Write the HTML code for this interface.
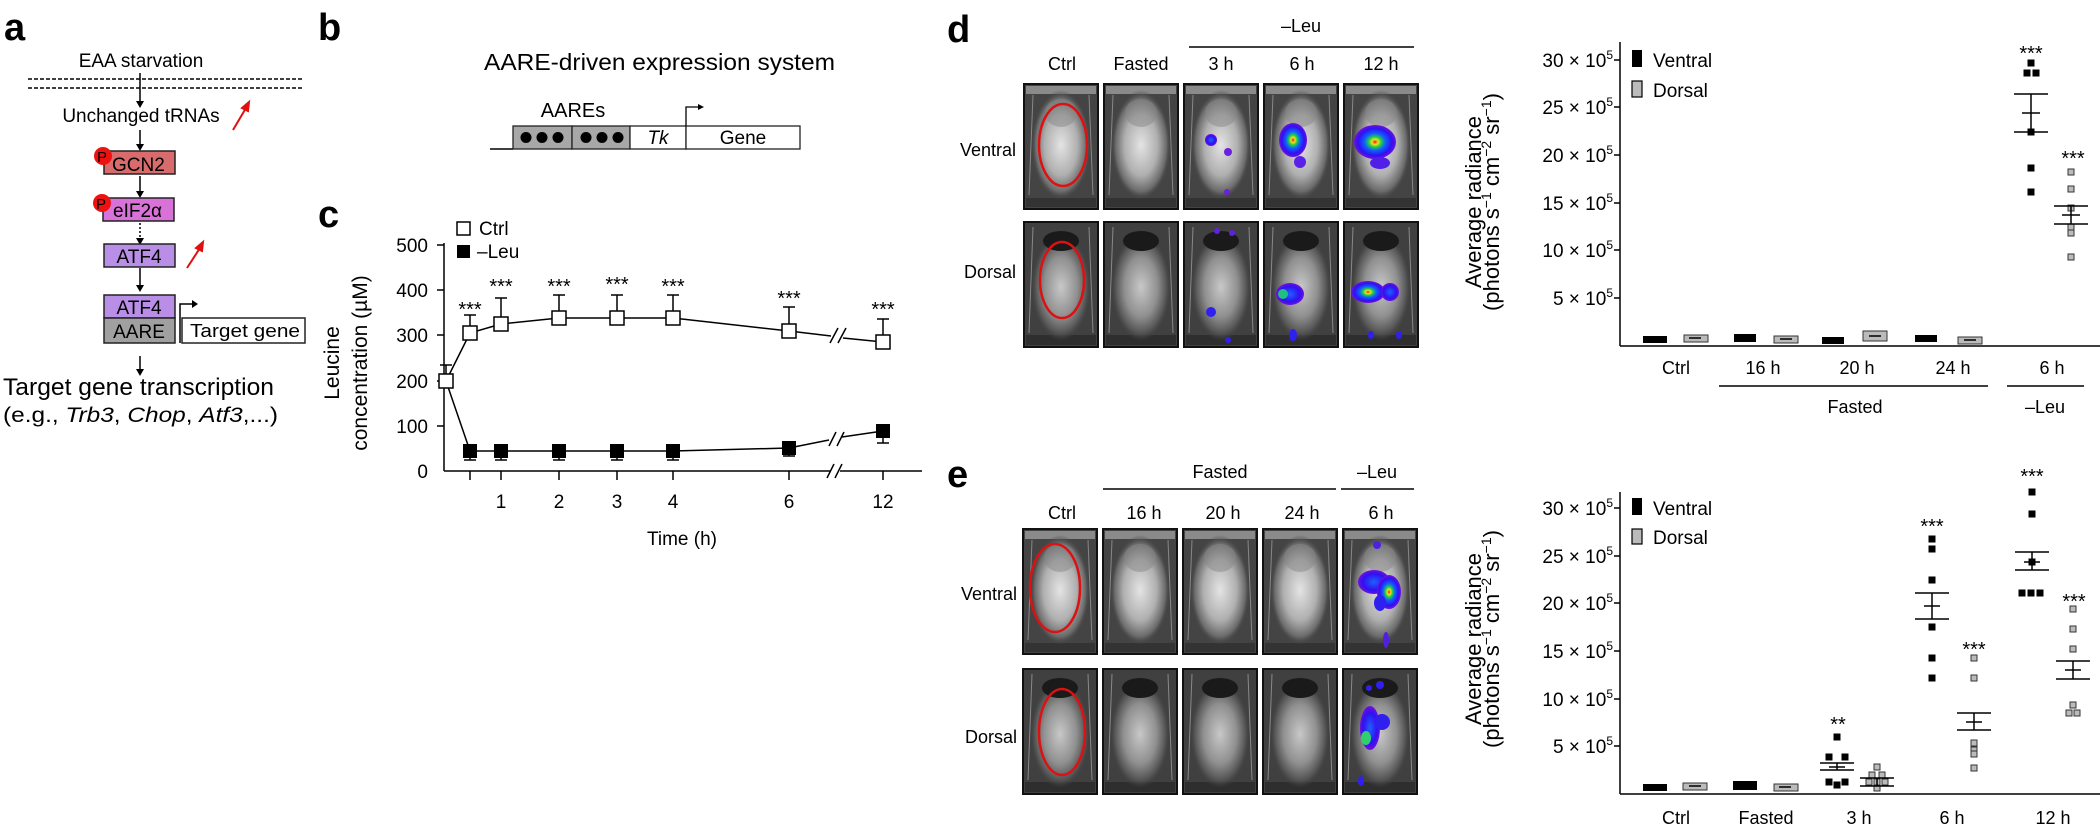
<!DOCTYPE html>
<html><head><meta charset="utf-8"><style>
html,body{margin:0;padding:0;background:#fff;}
svg{display:block;font-family:"Liberation Sans",sans-serif;}
</style></head><body>
<svg width="2100" height="831" viewBox="0 0 2100 831" xmlns="http://www.w3.org/2000/svg">
<defs>
<radialGradient id="body" cx="50%" cy="50%" r="50%">
<stop offset="0" stop-color="#e4e4e4"/><stop offset="0.55" stop-color="#b0b0b0"/><stop offset="0.85" stop-color="#6a6a6a"/><stop offset="1" stop-color="#404040" stop-opacity="0"/>
</radialGradient>
<radialGradient id="bodyd" cx="50%" cy="50%" r="50%">
<stop offset="0" stop-color="#c8c8c8"/><stop offset="0.55" stop-color="#909090"/><stop offset="0.85" stop-color="#555"/><stop offset="1" stop-color="#404040" stop-opacity="0"/>
</radialGradient>
<radialGradient id="lum" cx="50%" cy="50%" r="50%">
<stop offset="0" stop-color="#e02020"/><stop offset="0.15" stop-color="#f0e020"/><stop offset="0.3" stop-color="#20d040"/><stop offset="0.5" stop-color="#1060ff"/><stop offset="0.8" stop-color="#3010f0"/><stop offset="1" stop-color="#7010e0"/>
</radialGradient>
<radialGradient id="lumb" cx="50%" cy="50%" r="50%">
<stop offset="0" stop-color="#2060ff"/><stop offset="0.7" stop-color="#3010f0"/><stop offset="1" stop-color="#7010e0"/>
</radialGradient>
<symbol id="mv" viewBox="0 0 76 127" width="76" height="127">
<rect x="1" y="1" width="74" height="125" fill="#444" stroke="#111" stroke-width="2"/>
<rect x="3" y="3" width="70" height="8" fill="#8a8a8a"/>
<rect x="3" y="115" width="70" height="9" fill="#333"/>
<line x1="10" y1="12" x2="6" y2="112" stroke="#888" stroke-width="1"/>
<line x1="66" y1="12" x2="70" y2="112" stroke="#888" stroke-width="1"/>
<ellipse cx="38" cy="62" rx="30" ry="55" fill="url(#body)"/>
<ellipse cx="38" cy="30" rx="16" ry="14" fill="#888" opacity="0.5"/>
</symbol>
<symbol id="md" viewBox="0 0 76 127" width="76" height="127">
<rect x="1" y="1" width="74" height="125" fill="#404040" stroke="#111" stroke-width="2"/>
<rect x="3" y="114" width="70" height="10" fill="#2e2e2e"/>
<line x1="10" y1="6" x2="6" y2="112" stroke="#888" stroke-width="1"/>
<line x1="66" y1="6" x2="70" y2="112" stroke="#888" stroke-width="1"/>
<ellipse cx="38" cy="66" rx="30" ry="54" fill="url(#bodyd)"/>
<ellipse cx="38" cy="20" rx="18" ry="10" fill="#1a1a1a"/>
</symbol>
</defs>

<!-- Panel a -->
<text x="4" y="40" font-size="38" font-weight="bold">a</text>
<text x="141" y="67" font-size="19" text-anchor="middle">EAA starvation</text>
<line x1="28" y1="79" x2="304" y2="79" stroke="#000" stroke-width="1.5" stroke-dasharray="4,2"/>
<line x1="28" y1="88" x2="304" y2="88" stroke="#000" stroke-width="1.5" stroke-dasharray="4,2"/>
<g stroke="#000" stroke-width="1.5" fill="none">
<line x1="140" y1="73" x2="140" y2="104"/>
<line x1="140" y1="130" x2="140" y2="146"/>
<line x1="140" y1="176" x2="140" y2="193"/>
<line x1="140" y1="223" x2="140" y2="240" stroke-dasharray="2,2"/>
<line x1="140" y1="268" x2="140" y2="286"/>
<line x1="140" y1="356" x2="140" y2="371"/>
</g>
<g fill="#000">
<path d="M136,101 L144,101 L140,108 Z"/>
<path d="M136,144 L144,144 L140,151 Z"/>
<path d="M136,191 L144,191 L140,198 Z"/>
<path d="M136,238 L144,238 L140,245 Z"/>
<path d="M136,285 L144,285 L140,292 Z"/>
<path d="M136,369 L144,369 L140,376 Z"/>
</g>
<text x="141" y="122" font-size="19" text-anchor="middle">Unchanged tRNAs</text>
<g stroke="#e01010" stroke-width="2" fill="#e01010">
<line x1="233" y1="130" x2="246" y2="108"/><path d="M249,102 L242,108 L248,111 Z"/>
<line x1="187" y1="268" x2="200" y2="248"/><path d="M203,242 L196,248 L202,251 Z"/>
</g>
<rect x="104" y="151" width="71" height="23" fill="#d86b6b" stroke="#222" stroke-width="1.5"/>
<text x="112" y="171" font-size="19">GCN2</text>
<circle cx="103" cy="156" r="9" fill="#ee1111"/><text x="97" y="162" font-size="15">P</text>
<rect x="103" y="198" width="71" height="23" fill="#d972d8" stroke="#222" stroke-width="1.5"/>
<text x="113" y="217" font-size="19">eIF2α</text>
<circle cx="102" cy="203" r="9" fill="#ee1111"/><text x="96" y="209" font-size="15">P</text>
<rect x="104" y="244" width="71" height="23" fill="#b98ee6" stroke="#222" stroke-width="1.5"/>
<text x="139" y="263" font-size="19" text-anchor="middle">ATF4</text>
<rect x="104" y="295" width="71" height="23" fill="#b98ee6" stroke="#222" stroke-width="1.5"/>
<text x="139" y="314" font-size="19" text-anchor="middle">ATF4</text>
<rect x="104" y="318" width="71" height="25" fill="#a0a0a0" stroke="#222" stroke-width="1.5"/>
<text x="139" y="338" font-size="19" text-anchor="middle">AARE</text>
<rect x="182" y="318" width="123" height="25" fill="#fff" stroke="#222" stroke-width="1.5"/>
<text x="190" y="337" font-size="18" textLength="110" lengthAdjust="spacingAndGlyphs">Target gene</text>
<path d="M180,343 L180,304 L193,304" stroke="#000" stroke-width="1.5" fill="none"/><path d="M192,300 L198,304 L192,308 Z"/>
<text x="3" y="395" font-size="24" textLength="271" lengthAdjust="spacingAndGlyphs">Target gene transcription</text>
<text x="3" y="422" font-size="21" textLength="275" lengthAdjust="spacingAndGlyphs">(e.g., <tspan font-style="italic">Trb3</tspan>, <tspan font-style="italic">Chop</tspan>, <tspan font-style="italic">Atf3</tspan>,...)</text>

<!-- Panel b -->
<text x="318" y="40" font-size="38" font-weight="bold">b</text>
<text x="484" y="70" font-size="23" textLength="351" lengthAdjust="spacingAndGlyphs">AARE-driven expression system</text>
<text x="573" y="117" font-size="20" text-anchor="middle">AAREs</text>
<line x1="490" y1="149" x2="513" y2="149" stroke="#000" stroke-width="1.5"/>
<rect x="513" y="126" width="59" height="23" fill="#a8a8a8" stroke="#222" stroke-width="1.3"/>
<rect x="572" y="126" width="58" height="23" fill="#a8a8a8" stroke="#222" stroke-width="1.3"/>
<rect x="630" y="126" width="56" height="23" fill="#fff" stroke="#222" stroke-width="1.3"/>
<rect x="686" y="126" width="114" height="23" fill="#fff" stroke="#222" stroke-width="1.3"/>
<g fill="#000"><circle cx="526" cy="137.5" r="5.5"/><circle cx="542" cy="137.5" r="5.5"/><circle cx="558" cy="137.5" r="5.5"/><circle cx="586" cy="137.5" r="5.5"/><circle cx="602" cy="137.5" r="5.5"/><circle cx="618" cy="137.5" r="5.5"/></g>
<text x="658" y="144" font-size="19" font-style="italic" text-anchor="middle">Tk</text>
<text x="743" y="144" font-size="19" text-anchor="middle">Gene</text>
<path d="M686,126 L686,107 L699,107" stroke="#000" stroke-width="1.3" fill="none"/><path d="M698,104 L704,107 L698,110 Z"/>

<!-- Panel c -->
<text x="318" y="227" font-size="38" font-weight="bold">c</text>
<rect x="457" y="222" width="13" height="13" fill="#fff" stroke="#000" stroke-width="1.5"/>
<text x="479" y="235" font-size="19">Ctrl</text>
<rect x="457" y="245" width="13" height="13" fill="#000"/>
<text x="477" y="258" font-size="19">–Leu</text>
<g stroke="#000" stroke-width="1.5" fill="none">
<line x1="444" y1="243" x2="444" y2="471"/>
<line x1="444" y1="471" x2="831" y2="471"/><line x1="840" y1="471" x2="922" y2="471"/>
<line x1="827" y1="478" x2="834" y2="464"/><line x1="835" y1="478" x2="842" y2="464"/>
<line x1="437" y1="245" x2="444" y2="245"/><line x1="437" y1="290" x2="444" y2="290"/><line x1="437" y1="335" x2="444" y2="335"/><line x1="437" y1="381" x2="444" y2="381"/><line x1="437" y1="426" x2="444" y2="426"/>
<line x1="470" y1="471" x2="470" y2="480"/><line x1="501" y1="471" x2="501" y2="480"/><line x1="559" y1="471" x2="559" y2="480"/><line x1="617" y1="471" x2="617" y2="480"/><line x1="673" y1="471" x2="673" y2="480"/><line x1="789" y1="471" x2="789" y2="480"/><line x1="883" y1="471" x2="883" y2="480"/>
<polyline points="446,381 470,333 501,324 559,318 617,318 673,318 789,331 831,336"/>
<line x1="843" y1="338" x2="883" y2="342"/>
<line x1="830" y1="343" x2="838" y2="328"/><line x1="838" y1="343" x2="846" y2="328"/>
<polyline points="446,381 470,451 501,451 559,451 617,451 673,451 789,448 829,440"/>
<line x1="842" y1="437" x2="883" y2="431"/>
<line x1="829" y1="446" x2="836" y2="432"/><line x1="837" y1="446" x2="844" y2="432"/>
<path d="M446,381 V365 M440,365 H452"/>
<path d="M470,333 V315 M464,315 H476"/>
<path d="M501,324 V298 M495,298 H507"/>
<path d="M559,318 V295 M553,295 H565"/>
<path d="M617,318 V295 M611,295 H623"/>
<path d="M673,318 V295 M667,295 H679"/>
<path d="M789,331 V307 M783,307 H795"/>
<path d="M883,342 V319 M877,319 H889"/>
<path d="M470,451 V460 M464,460 H476"/>
<path d="M501,451 V460 M495,460 H507"/>
<path d="M559,451 V460 M553,460 H565"/>
<path d="M617,451 V460 M611,460 H623"/>
<path d="M673,451 V460 M667,460 H679"/>
<path d="M789,448 V456 M783,456 H795"/>
<path d="M883,431 V443 M877,443 H889"/>
</g>
<g fill="#000">
<rect x="463" y="444" width="14" height="14"/><rect x="494" y="444" width="14" height="14"/><rect x="552" y="444" width="14" height="14"/><rect x="610" y="444" width="14" height="14"/><rect x="666" y="444" width="14" height="14"/><rect x="782" y="441" width="14" height="14"/><rect x="876" y="424" width="14" height="14"/>
</g>
<g fill="#fff" stroke="#000" stroke-width="1.5">
<rect x="439" y="374" width="14" height="14"/><rect x="463" y="326" width="14" height="14"/><rect x="494" y="317" width="14" height="14"/><rect x="552" y="311" width="14" height="14"/><rect x="610" y="311" width="14" height="14"/><rect x="666" y="311" width="14" height="14"/><rect x="782" y="324" width="14" height="14"/><rect x="876" y="335" width="14" height="14"/>
</g>
<g font-size="20" text-anchor="middle">
<text x="470" y="316">***</text><text x="501" y="293">***</text><text x="559" y="293">***</text><text x="617" y="291">***</text><text x="673" y="293">***</text><text x="789" y="305">***</text><text x="883" y="316">***</text>
</g>
<g font-size="19" text-anchor="end">
<text x="428" y="252">500</text><text x="428" y="297">400</text><text x="428" y="342">300</text><text x="428" y="388">200</text><text x="428" y="433">100</text><text x="428" y="478">0</text>
</g>
<g font-size="19" text-anchor="middle">
<text x="501" y="508">1</text><text x="559" y="508">2</text><text x="617" y="508">3</text><text x="673" y="508">4</text><text x="789" y="508">6</text><text x="883" y="508">12</text>
</g>
<text x="682" y="545" font-size="19" text-anchor="middle">Time (h)</text>
<text transform="translate(339,363) rotate(-90)" font-size="21" text-anchor="middle">Leucine</text>
<text transform="translate(367,363) rotate(-90)" font-size="21" text-anchor="middle">concentration (µM)</text>

<!-- Panel d images -->
<text x="947" y="42" font-size="38" font-weight="bold">d</text>
<g font-size="18" text-anchor="middle">
<text x="1062" y="70">Ctrl</text><text x="1141" y="70">Fasted</text><text x="1221" y="70">3 h</text><text x="1302" y="70">6 h</text><text x="1381" y="70">12 h</text>
<text x="1301" y="32">–Leu</text>
</g>
<line x1="1189" y1="47" x2="1414" y2="47" stroke="#000" stroke-width="1.5"/>
<text x="1016" y="156" font-size="18" text-anchor="end">Ventral</text>
<text x="1016" y="278" font-size="18" text-anchor="end">Dorsal</text>
<use href="#mv" x="1023" y="83"/><use href="#mv" x="1103" y="83"/><use href="#mv" x="1183" y="83"/><use href="#mv" x="1263" y="83"/><use href="#mv" x="1343" y="83"/>
<use href="#md" x="1023" y="221"/><use href="#md" x="1103" y="221"/><use href="#md" x="1183" y="221"/><use href="#md" x="1263" y="221"/><use href="#md" x="1343" y="221"/>
<ellipse cx="1063" cy="145" rx="24" ry="41" fill="none" stroke="#dd1111" stroke-width="2.5"/>
<ellipse cx="1062" cy="280" rx="22" ry="38" fill="none" stroke="#dd1111" stroke-width="2.5"/>
<ellipse cx="1211" cy="140" rx="6" ry="6" fill="url(#lumb)"/><ellipse cx="1228" cy="152" rx="4" ry="4" fill="#6a20e0"/><ellipse cx="1227" cy="192" rx="3" ry="3" fill="#6a20e0"/>
<ellipse cx="1293" cy="140" rx="14" ry="17" fill="url(#lum)"/><ellipse cx="1300" cy="162" rx="6" ry="6" fill="#5a20e8"/>
<ellipse cx="1375" cy="142" rx="21" ry="17" fill="url(#lum)"/><ellipse cx="1380" cy="163" rx="10" ry="6" fill="#5020e8"/>
<ellipse cx="1217" cy="231" rx="3" ry="3" fill="#6020e0"/><ellipse cx="1232" cy="233" rx="3" ry="3" fill="#6020e0"/><ellipse cx="1211" cy="312" rx="5" ry="5" fill="#3020f0"/><ellipse cx="1228" cy="340" rx="3" ry="3" fill="#3020f0"/>
<ellipse cx="1290" cy="294" rx="14" ry="11" fill="url(#lumb)"/><ellipse cx="1283" cy="294" rx="5" ry="5" fill="#20c080"/>
<ellipse cx="1368" cy="292" rx="17" ry="11" fill="url(#lum)"/><ellipse cx="1390" cy="292" rx="9" ry="9" fill="url(#lumb)"/>
<ellipse cx="1293" cy="335" rx="4" ry="6" fill="#3020f0"/><ellipse cx="1371" cy="335" rx="3" ry="4" fill="#3020f0"/><ellipse cx="1399" cy="335" rx="3" ry="4" fill="#3020f0"/>

<!-- Panel d plot -->
<g stroke="#000" stroke-width="1.5" fill="none">
<line x1="1620" y1="42" x2="1620" y2="346"/><line x1="1620" y1="346" x2="2100" y2="346"/>
<line x1="1614" y1="60" x2="1620" y2="60"/><line x1="1614" y1="107" x2="1620" y2="107"/><line x1="1614" y1="155" x2="1620" y2="155"/><line x1="1614" y1="203" x2="1620" y2="203"/><line x1="1614" y1="250" x2="1620" y2="250"/><line x1="1614" y1="298" x2="1620" y2="298"/>
<line x1="1719" y1="386" x2="1988" y2="386"/><line x1="2007" y1="386" x2="2084" y2="386"/>
</g>
<g font-size="19" text-anchor="end">
<text x="1613" y="67">30 × 10<tspan dy="-8" font-size="12">5</tspan></text>
<text x="1613" y="114">25 × 10<tspan dy="-8" font-size="12">5</tspan></text>
<text x="1613" y="162">20 × 10<tspan dy="-8" font-size="12">5</tspan></text>
<text x="1613" y="210">15 × 10<tspan dy="-8" font-size="12">5</tspan></text>
<text x="1613" y="257">10 × 10<tspan dy="-8" font-size="12">5</tspan></text>
<text x="1613" y="305">5 × 10<tspan dy="-8" font-size="12">5</tspan></text>
</g>
<text transform="translate(1481,202) rotate(-90)" font-size="22" text-anchor="middle">Average radiance</text>
<text transform="translate(1499,202) rotate(-90)" font-size="22" text-anchor="middle">(photons s<tspan dy="-8" font-size="14">−1</tspan><tspan dy="8"> cm</tspan><tspan dy="-8" font-size="14">−2</tspan><tspan dy="8"> sr</tspan><tspan dy="-8" font-size="14">−1</tspan><tspan dy="8">)</tspan></text>
<rect x="1632" y="50" width="10" height="17" fill="#000"/><text x="1653" y="67" font-size="19">Ventral</text>
<rect x="1632" y="81" width="10" height="16" fill="#bbb" stroke="#000" stroke-width="1.2"/><text x="1653" y="97" font-size="19">Dorsal</text>
<g font-size="18" text-anchor="middle">
<text x="1676" y="374">Ctrl</text><text x="1763" y="374">16 h</text><text x="1857" y="374">20 h</text><text x="1953" y="374">24 h</text><text x="2052" y="374">6 h</text>
<text x="1855" y="413">Fasted</text><text x="2045" y="413">–Leu</text>
</g>
<g fill="#000">
<rect x="1643" y="336" width="24" height="7"/><rect x="1734" y="334" width="22" height="8"/><rect x="1822" y="337" width="22" height="7"/><rect x="1915" y="335" width="22" height="7"/>
<rect x="2027.5" y="59.5" width="7" height="7"/><rect x="2023.5" y="69.5" width="7" height="7"/><rect x="2032.5" y="69.5" width="7" height="7"/><rect x="2027.5" y="128.5" width="7" height="7"/><rect x="2027.5" y="164.5" width="7" height="7"/><rect x="2027.5" y="188.5" width="7" height="7"/>
</g>
<g fill="#bbb" stroke="#333" stroke-width="1">
<rect x="1684" y="335" width="24" height="7"/><rect x="1774" y="336" width="24" height="7"/><rect x="1863" y="331" width="24" height="10"/><rect x="1958" y="337" width="24" height="7"/>
<rect x="2068" y="169" width="6" height="6"/><rect x="2068" y="186" width="6" height="6"/><rect x="2068" y="205" width="6" height="6"/><rect x="2068" y="224" width="6" height="6"/><rect x="2068" y="230" width="6" height="6"/><rect x="2068" y="254" width="6" height="6"/>
</g>
<g stroke="#000" stroke-width="1.5">
<path d="M1649,339 H1661 M1689,338 H1701 M1739,338 H1751 M1780,339 H1792 M1828,340 H1840 M1869,336 H1881 M1920,338 H1932 M1964,340 H1976"/>
<path d="M2014,94 H2048 M2014,132 H2048 M2031,94 V132 M2022,113 H2040"/>
<path d="M2054,206 H2088 M2054,224 H2088 M2071,206 V224 M2062,215 H2080"/>
</g>
<text x="2031" y="60" font-size="20" text-anchor="middle">***</text>
<text x="2073" y="165" font-size="20" text-anchor="middle">***</text>

<!-- Panel e images -->
<text x="947" y="487" font-size="38" font-weight="bold">e</text>
<g font-size="18" text-anchor="middle">
<text x="1062" y="519">Ctrl</text><text x="1144" y="519">16 h</text><text x="1223" y="519">20 h</text><text x="1302" y="519">24 h</text><text x="1381" y="519">6 h</text>
<text x="1220" y="478">Fasted</text><text x="1377" y="478">–Leu</text>
</g>
<line x1="1103" y1="489" x2="1336" y2="489" stroke="#000" stroke-width="1.5"/>
<line x1="1341" y1="489" x2="1414" y2="489" stroke="#000" stroke-width="1.5"/>
<text x="1017" y="600" font-size="18" text-anchor="end">Ventral</text>
<text x="1017" y="743" font-size="18" text-anchor="end">Dorsal</text>
<use href="#mv" x="1022" y="528"/><use href="#mv" x="1102" y="528"/><use href="#mv" x="1182" y="528"/><use href="#mv" x="1262" y="528"/><use href="#mv" x="1342" y="528"/>
<use href="#md" x="1022" y="668"/><use href="#md" x="1102" y="668"/><use href="#md" x="1182" y="668"/><use href="#md" x="1262" y="668"/><use href="#md" x="1342" y="668"/>
<ellipse cx="1055" cy="588" rx="25" ry="44" fill="none" stroke="#dd1111" stroke-width="2.5"/>
<ellipse cx="1062" cy="732" rx="23" ry="43" fill="none" stroke="#dd1111" stroke-width="2.5"/>
<ellipse cx="1374" cy="582" rx="16" ry="12" fill="url(#lumb)"/><ellipse cx="1389" cy="592" rx="12" ry="17" fill="url(#lum)"/><ellipse cx="1380" cy="603" rx="6" ry="8" fill="#3020f0"/>
<ellipse cx="1377" cy="545" rx="4" ry="4" fill="#5020e0"/><ellipse cx="1386" cy="640" rx="3" ry="8" fill="#5020e0"/>
<ellipse cx="1380" cy="685" rx="4" ry="4" fill="#3020f0"/><ellipse cx="1369" cy="688" rx="3" ry="3" fill="#3020f0"/>
<ellipse cx="1370" cy="728" rx="10" ry="22" fill="url(#lumb)"/><ellipse cx="1366" cy="738" rx="5" ry="7" fill="#30d070"/><ellipse cx="1382" cy="722" rx="8" ry="8" fill="#3020f0"/>
<ellipse cx="1361" cy="781" rx="3" ry="5" fill="#3020f0"/>

<!-- Panel e plot -->
<g stroke="#000" stroke-width="1.5" fill="none">
<line x1="1620" y1="492" x2="1620" y2="794"/><line x1="1620" y1="794" x2="2100" y2="794"/>
<line x1="1614" y1="508" x2="1620" y2="508"/><line x1="1614" y1="556" x2="1620" y2="556"/><line x1="1614" y1="603" x2="1620" y2="603"/><line x1="1614" y1="651" x2="1620" y2="651"/><line x1="1614" y1="699" x2="1620" y2="699"/><line x1="1614" y1="746" x2="1620" y2="746"/>
</g>
<g font-size="19" text-anchor="end">
<text x="1613" y="515">30 × 10<tspan dy="-8" font-size="12">5</tspan></text>
<text x="1613" y="563">25 × 10<tspan dy="-8" font-size="12">5</tspan></text>
<text x="1613" y="610">20 × 10<tspan dy="-8" font-size="12">5</tspan></text>
<text x="1613" y="658">15 × 10<tspan dy="-8" font-size="12">5</tspan></text>
<text x="1613" y="706">10 × 10<tspan dy="-8" font-size="12">5</tspan></text>
<text x="1613" y="753">5 × 10<tspan dy="-8" font-size="12">5</tspan></text>
</g>
<text transform="translate(1481,639) rotate(-90)" font-size="22" text-anchor="middle">Average radiance</text>
<text transform="translate(1499,639) rotate(-90)" font-size="22" text-anchor="middle">(photons s<tspan dy="-8" font-size="14">−1</tspan><tspan dy="8"> cm</tspan><tspan dy="-8" font-size="14">−2</tspan><tspan dy="8"> sr</tspan><tspan dy="-8" font-size="14">−1</tspan><tspan dy="8">)</tspan></text>
<rect x="1632" y="498" width="10" height="17" fill="#000"/><text x="1653" y="515" font-size="19">Ventral</text>
<rect x="1632" y="529" width="10" height="15" fill="#bbb" stroke="#000" stroke-width="1.2"/><text x="1653" y="544" font-size="19">Dorsal</text>
<g font-size="18" text-anchor="middle">
<text x="1676" y="824">Ctrl</text><text x="1766" y="824">Fasted</text><text x="1859" y="824">3 h</text><text x="1952" y="824">6 h</text><text x="2053" y="824">12 h</text>
</g>
<g fill="#000">
<rect x="1643" y="784" width="24" height="7"/><rect x="1733" y="781" width="24" height="9"/>
<rect x="1833.5" y="733.5" width="7" height="7"/><rect x="1825.5" y="753.5" width="7" height="7"/><rect x="1841.5" y="753.5" width="7" height="7"/><rect x="1825.5" y="778.5" width="7" height="7"/><rect x="1841.5" y="778.5" width="7" height="7"/><rect x="1833.5" y="781.5" width="7" height="7"/>
<rect x="1928.5" y="535.5" width="7" height="7"/><rect x="1928.5" y="545.5" width="7" height="7"/><rect x="1928.5" y="576.5" width="7" height="7"/><rect x="1928.5" y="623.5" width="7" height="7"/><rect x="1928.5" y="654.5" width="7" height="7"/><rect x="1928.5" y="674.5" width="7" height="7"/>
<rect x="2028.5" y="488.5" width="7" height="7"/><rect x="2028.5" y="510.5" width="7" height="7"/><rect x="2018.5" y="589.5" width="7" height="7"/><rect x="2027.5" y="589.5" width="7" height="7"/><rect x="2036.5" y="589.5" width="7" height="7"/><rect x="2028.5" y="558.5" width="7" height="7"/>
</g>
<g fill="#bbb" stroke="#333" stroke-width="1">
<rect x="1683" y="783" width="24" height="7"/><rect x="1774" y="784" width="24" height="7"/>
<rect x="1874" y="764" width="6" height="6"/><rect x="1869" y="772" width="6" height="6"/><rect x="1879" y="772" width="6" height="6"/><rect x="1866" y="779" width="6" height="6"/><rect x="1874" y="779" width="6" height="6"/><rect x="1882" y="779" width="6" height="6"/><rect x="1874" y="785" width="6" height="6"/>
<rect x="1971" y="655" width="6" height="6"/><rect x="1971" y="675" width="6" height="6"/><rect x="1971" y="740" width="6" height="6"/><rect x="1971" y="747" width="6" height="6"/><rect x="1971" y="751" width="6" height="6"/><rect x="1971" y="765" width="6" height="6"/>
<rect x="2070" y="606" width="6" height="6"/><rect x="2070" y="626" width="6" height="6"/><rect x="2070" y="646" width="6" height="6"/><rect x="2070" y="702" width="6" height="6"/><rect x="2066" y="710" width="6" height="6"/><rect x="2074" y="710" width="6" height="6"/>
</g>
<g stroke="#000" stroke-width="1.5">
<path d="M1649,787 H1661 M1689,786 H1701 M1738,785 H1750 M1779,787 H1791"/>
<path d="M1820,763 H1854 M1820,770 H1854 M1837,763 V770 M1829,767 H1845"/>
<path d="M1860,778 H1894 M1860,786 H1894 M1877,778 V786"/>
<path d="M1915,593 H1949 M1915,619 H1949 M1932,593 V619 M1924,606 H1940"/>
<path d="M1957,713 H1991 M1957,730 H1991 M1974,713 V730 M1966,722 H1982"/>
<path d="M2015,552 H2049 M2015,570 H2049 M2032,552 V570 M2024,562 H2040"/>
<path d="M2056,661 H2090 M2056,679 H2090 M2073,661 V679 M2065,670 H2081"/>
</g>
<g font-size="20" text-anchor="middle">
<text x="1838" y="731">**</text><text x="1932" y="533">***</text><text x="1974" y="656">***</text><text x="2032" y="483">***</text><text x="2074" y="608">***</text>
</g>
</svg>
</body></html>
